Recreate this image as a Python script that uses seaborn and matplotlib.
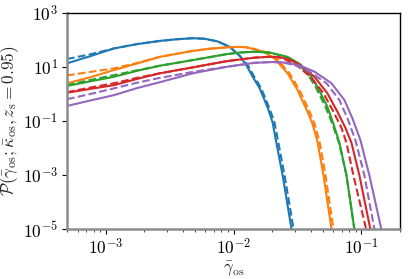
import numpy as np
import matplotlib
matplotlib.use('Agg')
from matplotlib import pyplot as plt
from matplotlib.ticker import FuncFormatter, LogLocator, NullLocator
import seaborn as sns

# values, stored as log10(gamma) and log10(P)
blue_lg = [-3.305, -3.125, -2.938, -2.758, -2.578, -2.450, -2.320, -2.227, -2.125, -2.031, -1.953, -1.898,
           -1.852, -1.797, -1.734, -1.695, -1.672, -1.617, -1.547, -1.527]
blue_lp = [1.14, 1.40, 1.69, 1.85, 1.97, 2.03, 2.07, 2.05, 1.95, 1.75, 1.42, 1.05,
           0.65, 0.22, -0.50, -1.05, -1.65, -3.0, -5.0, -5.6]
blue_d_lg = [-3.305, -3.125, -2.938, -2.758, -2.578, -2.450, -2.320, -2.227, -2.125, -2.031, -1.953, -1.886,
             -1.840, -1.785, -1.722, -1.680, -1.656, -1.602, -1.531, -1.512]
blue_d_lp = [1.30, 1.47, 1.69, 1.85, 1.97, 2.03, 2.07, 2.05, 1.95, 1.75, 1.42, 1.05,
             0.65, 0.22, -0.50, -1.05, -1.65, -3.0, -5.0, -5.6]

orange_lg = [-3.305, -3.125, -2.938, -2.758, -2.578, -2.320, -2.188, -2.055, -1.953, -1.898, -1.836, -1.758,
             -1.680, -1.578, -1.500, -1.422, -1.383, -1.344, -1.297, -1.234, -1.219]
orange_lp = [0.40, 0.62, 0.89, 1.13, 1.38, 1.60, 1.68, 1.73, 1.75, 1.73, 1.66, 1.55,
             1.32, 0.77, 0.15, -0.65, -1.10, -1.75, -3.0, -5.0, -5.6]
orange_d_lg = [-3.305, -3.125, -2.938, -2.758, -2.578, -2.320, -2.188, -2.055, -1.953, -1.898, -1.836, -1.758,
               -1.664, -1.563, -1.484, -1.406, -1.367, -1.328, -1.281, -1.219, -1.203]
orange_d_lp = [0.69, 0.82, 0.95, 1.15, 1.38, 1.60, 1.68, 1.73, 1.75, 1.73, 1.67, 1.56,
               1.32, 0.77, 0.15, -0.65, -1.10, -1.75, -3.0, -5.0, -5.6]

green_lg = [-3.305, -3.125, -2.938, -2.758, -2.578, -2.320, -2.055, -1.953, -1.836, -1.719, -1.578, -1.477,
            -1.406, -1.344, -1.266, -1.219, -1.172, -1.117, -1.055, -1.039]
green_lp = [0.30, 0.47, 0.64, 0.86, 1.05, 1.26, 1.48, 1.54, 1.57, 1.54, 1.38, 1.10,
            0.75, 0.27, -0.47, -1.10, -1.80, -3.0, -5.0, -5.6]
green_d_lg = [-3.305, -3.125, -2.938, -2.758, -2.578, -2.320, -2.055, -1.953, -1.836, -1.719, -1.594, -1.492,
              -1.422, -1.359, -1.281, -1.227, -1.176, -1.117, -1.055, -1.039]
green_d_lp = [0.33, 0.52, 0.70, 0.88, 1.05, 1.26, 1.48, 1.54, 1.57, 1.54, 1.38, 1.10,
              0.75, 0.27, -0.47, -1.10, -1.80, -3.0, -5.0, -5.6]

red_lg = [-3.305, -3.125, -2.938, -2.758, -2.578, -2.320, -2.055, -1.836, -1.719, -1.641, -1.563, -1.477,
          -1.367, -1.266, -1.188, -1.125, -1.078, -1.016, -0.930, -0.914]
red_lp = [0.05, 0.19, 0.33, 0.56, 0.77, 0.99, 1.22, 1.35, 1.38, 1.37, 1.28, 1.07,
          0.64, 0.03, -0.65, -1.25, -1.80, -3.0, -5.0, -5.5]
red_d_lg = [-3.305, -3.125, -2.938, -2.758, -2.578, -2.320, -2.055, -1.836, -1.734, -1.656, -1.594, -1.508,
            -1.398, -1.297, -1.219, -1.156, -1.117, -1.063, -0.963, -0.945]
red_d_lp = [0.07, 0.24, 0.40, 0.60, 0.77, 0.99, 1.22, 1.35, 1.38, 1.37, 1.28, 1.07,
            0.64, 0.03, -0.65, -1.25, -1.80, -3.0, -5.0, -5.5]

purple_lg = [-3.305, -3.125, -2.938, -2.758, -2.578, -2.320, -2.055, -1.836, -1.680, -1.578, -1.477,
             -1.367, -1.234, -1.133, -1.070, -1.008, -0.938, -0.844, -0.820]
purple_lp = [-0.44, -0.24, -0.04, 0.22, 0.44, 0.77, 1.01, 1.16, 1.19, 1.16, 1.05,
             0.83, 0.40, -0.22, -0.90, -1.70, -3.0, -5.0, -5.5]
purple_d_lg = [-3.305, -3.125, -2.938, -2.758, -2.578, -2.320, -2.055, -1.836, -1.703, -1.602, -1.508,
               -1.406, -1.273, -1.172, -1.109, -1.047, -0.977, -0.898, -0.875]
purple_d_lp = [-0.19, 0.0, 0.21, 0.42, 0.60, 0.82, 1.01, 1.16, 1.19, 1.16, 1.05,
               0.83, 0.40, -0.22, -0.90, -1.70, -3.0, -5.0, -5.5]

colors = sns.color_palette('tab10', 5)
curves = [(blue_lg, blue_lp, blue_d_lg, blue_d_lp),
          (orange_lg, orange_lp, orange_d_lg, orange_d_lp),
          (green_lg, green_lp, green_d_lg, green_d_lp),
          (red_lg, red_lp, red_d_lg, red_d_lp),
          (purple_lg, purple_lp, purple_d_lg, purple_d_lp)]

sns.set_style('ticks')
plt.rcParams['mathtext.fontset'] = 'cm'
plt.rcParams['font.family'] = ['DejaVu Serif']

fig = plt.figure(figsize=(4.08, 2.79), dpi=100)
ax = fig.add_axes([0.164, 0.179, 0.816, 0.774])

for c, (lg, lp, dlg, dlp) in zip(colors, curves):
    sns.lineplot(x=np.power(10.0, lg), y=np.power(10.0, lp), ax=ax, color=c, lw=1.5, sort=False)
    sns.lineplot(x=np.power(10.0, dlg), y=np.power(10.0, dlp), ax=ax, color=c, lw=1.5,
                 linestyle='--', sort=False)

ax.set_xscale('log')
ax.set_yscale('log')
ax.set_xlim(4.95e-4, 0.2)
ax.set_ylim(1e-5, 1e3)
ax.set_yticks([1e-5, 1e-3, 1e-1, 1e1, 1e3])
ax.yaxis.set_minor_locator(NullLocator())
ax.xaxis.set_major_locator(LogLocator(base=10))
ax.xaxis.set_minor_locator(LogLocator(base=10, subs=np.arange(2, 10)))
fmt = FuncFormatter(lambda v, _: r'$10^{%d}$' % round(np.log10(v)))
ax.xaxis.set_major_formatter(fmt)
ax.yaxis.set_major_formatter(fmt)
ax.tick_params(labelsize=12.5, colors='black', length=3.5, width=0.8, pad=3)
ax.tick_params(which='minor', length=2, width=0.6)

for s in ['top', 'right']:
    ax.spines[s].set_color('black')
    ax.spines[s].set_linewidth(1.0)
for s in ['left', 'bottom']:
    ax.spines[s].set_color('#8c8c8c')
    ax.spines[s].set_linewidth(1.8)

ax.set_xlabel(r'$\bar{\gamma}_{\rm os}$', fontsize=12, labelpad=1)
ax.set_ylabel(r'$\mathcal{P}(\bar{\gamma}_{\rm os};\bar{\kappa}_{\rm os},z_{\rm s}=0.95)$', fontsize=12.5, labelpad=1)

fig.savefig('out.png', dpi=100)
